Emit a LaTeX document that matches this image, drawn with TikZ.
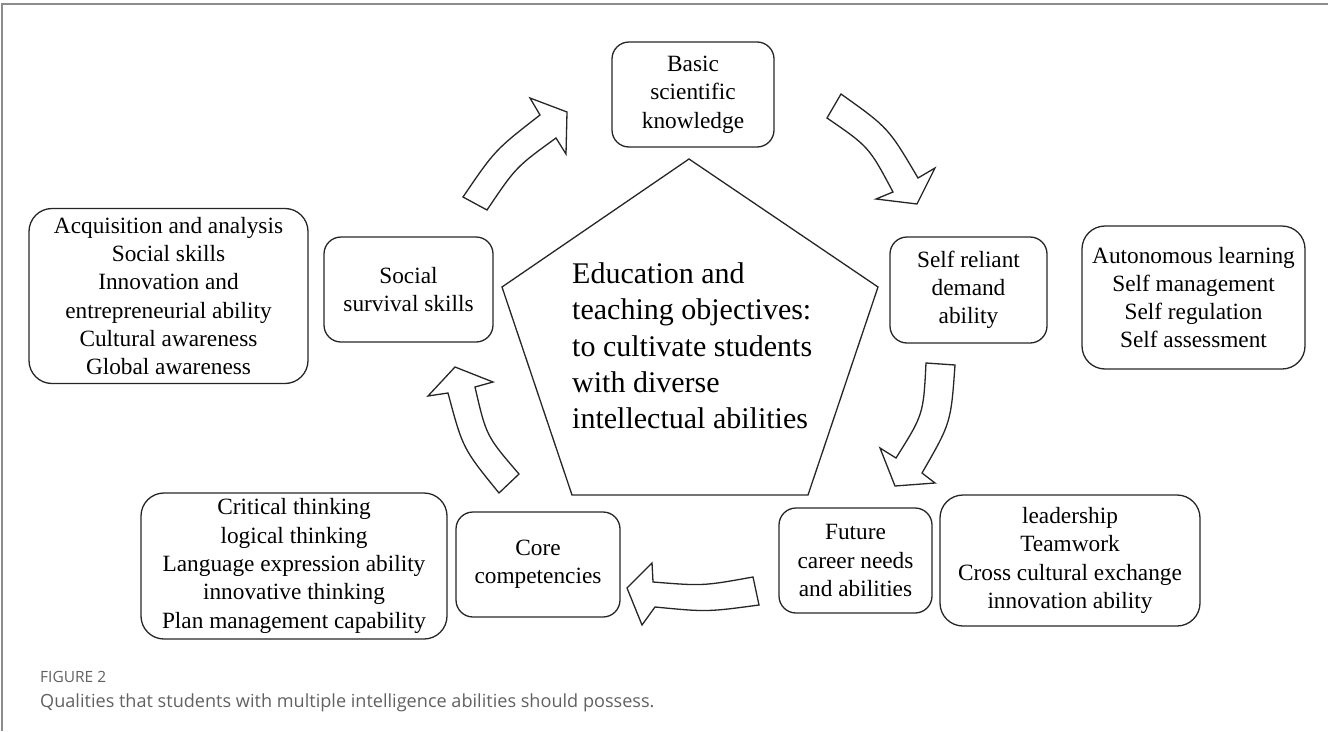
\documentclass[tikz,border=0pt]{standalone}
\usepackage{fontspec}
\setmainfont{Liberation Serif}
\newfontfamily\capfont{Open Sans}
\begin{document}
\begin{tikzpicture}[x=1pt,y=-1pt,
  box/.style={draw=black!85, line width=1.3pt, rectangle, rounded corners=17pt, align=center,
    inner sep=0pt, font=\fontsize{23.3}{28.3}\selectfont},
  bigbox/.style={box, rounded corners=23pt},
  blockarrow/.style={draw=black!85, line width=1.3pt, fill=white, line join=miter},
  frameline/.style={draw=black!45, line width=2pt},
  captxt/.style={anchor=west, inner sep=0pt, text=black!62}
]
\useasboundingbox (0,0) rectangle (1328,731);

% frame
\coordinate (ftl) at (2,4);
\coordinate (ftr) at (1328,4);
\coordinate (fbl) at (2,731);
\draw[frameline] (ftr) -- (ftl) -- (fbl);

% pentagon
\coordinate (p1) at (689,159);
\coordinate (p2) at (878,287);
\coordinate (p3) at (808,495);
\coordinate (p4) at (572,495);
\coordinate (p5) at (502,287);
\draw[line width=1.3pt, draw=black!85, line join=miter] (p1) -- (p2) -- (p3) -- (p4) -- (p5) -- cycle;
\node[anchor=west, align=left, inner sep=0pt, font=\fontsize{30}{36.3}\selectfont] (goal) at (572,346)
  {Education and\\teaching objectives:\\to cultivate students\\with diverse\\intellectual abilities};

% boxes
\node[box, minimum width=162pt, minimum height=105pt] (basic) at (693,94.5) {Basic\\scientific\\knowledge};
\node[box, minimum width=157pt, minimum height=106pt] (selfrel) at (968.5,290) {Self reliant\\demand\\ability};
\node[bigbox, minimum width=223pt, minimum height=143pt] (auto) at (1193.5,297.5)
  {Autonomous learning\\Self management\\Self regulation\\Self assessment};
\node[box, minimum width=153pt, minimum height=105pt] (future) at (855.5,560.5) {Future\\career needs\\and abilities};
\node[bigbox, minimum width=260pt, minimum height=131pt] (lead) at (1070,560.5)
  {leadership\\Teamwork\\Cross cultural exchange\\innovation ability};
\node[box, minimum width=164pt, minimum height=105pt] (core) at (538,564.5) {Core\\competencies};
\node[bigbox, minimum width=306pt, minimum height=146pt] (crit) at (294,566)
  {Critical thinking\\logical thinking\\Language expression ability\\innovative thinking\\Plan management capability};
\node[box, minimum width=169pt, minimum height=105pt] (social) at (408.5,289.5) {Social\\survival skills};
\node[bigbox, minimum width=279pt, minimum height=175pt] (acq) at (168.5,296)
  {Acquisition and analysis\\Social skills\\Innovation and\\entrepreneurial ability\\Cultural awareness\\Global awareness};

% curved block arrows
\draw[blockarrow] (463,197) .. controls (495,150) .. (540,115) -- (530,98) -- (567,112) -- (566,154)
  -- (556,138) .. controls (516,167) .. (487,210) -- cycle;
\draw[blockarrow] (841,94) .. controls (888.4,127.8) .. (918,178) -- (935,168) -- (917,204) -- (876,199)
  -- (893,192) .. controls (868.9,146.8) .. (827,118) -- cycle;
\draw[blockarrow] (926,363) .. controls (923.4,414.4) .. (896,458) -- (880,448) -- (895,486) -- (935,483)
  -- (922,473) .. controls (950.9,422.9) .. (955,365) -- cycle;
\draw[blockarrow] (753,577) .. controls (703,586) .. (653,582) -- (652,563) -- (627,588) -- (642,625)
  -- (655,607) .. controls (707,612) .. (759,605) -- cycle;
\draw[blockarrow] (499,493) .. controls (462.8,448.5) .. (448,393) -- (428,396) -- (455,367) -- (493,382)
  -- (475,387) .. controls (486.3,436) .. (519,474) -- cycle;

% caption
\node[captxt, font=\capfont\fontsize{15.5}{18}\selectfont] (figlabel) at (40,677) {FIGURE 2};
\node[captxt, font=\capfont\fontsize{18.1}{21}\selectfont] (caption) at (40,703)
  {Qualities that students with multiple intelligence abilities should possess.};
\end{tikzpicture}
\end{document}
